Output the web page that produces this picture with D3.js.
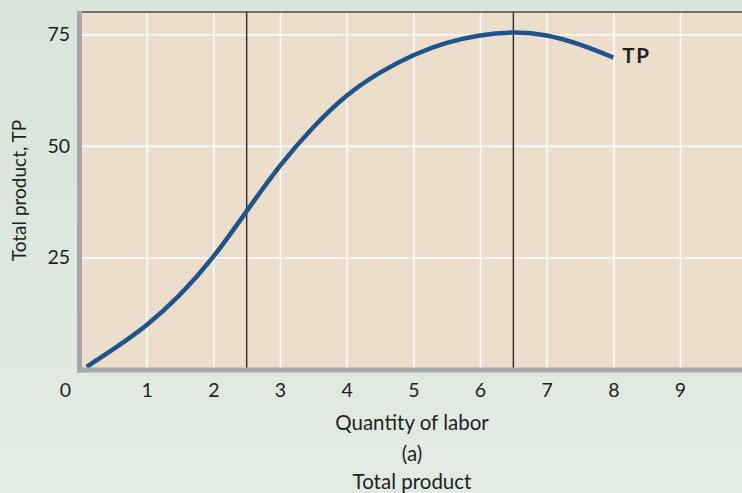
<!DOCTYPE html>
<html>
<head>
<meta charset="utf-8">
<script src="https://cdn.jsdelivr.net/npm/d3@7"></script>
<style>
  html, body { margin: 0; padding: 0; }
  body { width: 742px; height: 493px; overflow: hidden; }
  text { font-family: Lato, "Open Sans", sans-serif; fill: #231f20; }
</style>
</head>
<body>
<svg width="742" height="493"></svg>
<script>
// data
var labor = [0.1, 0.5, 1, 1.5, 2, 2.5, 3, 3.5, 4, 4.5, 5, 5.5, 6, 6.5, 7, 7.5, 8];
var totalProduct = [0.5, 4.4, 9.6, 16.4, 24.8, 35.4, 45.8, 54.4, 61.6, 66.6, 70.5, 73.3, 74.9, 75.6, 75.0, 72.8, 69.8];
var xTicks = [0, 1, 2, 3, 4, 5, 6, 7, 8, 9];
var yTicks = [25, 50, 75];
var markers = [2.5, 6.5]; // vertical reference lines

var width = 742;
var height = 493;
var margin = {
    top: 12,
    bottom: 124,
    left: 80,
    right: 0
};

var svg = d3.select('svg');

// background, a little greener at the top
var defs = svg.append('defs');
var grad = defs.append('linearGradient')
    .attr('id', 'bg')
    .attr('x1', 0).attr('y1', 0).attr('x2', 0).attr('y2', 1);
grad.append('stop').attr('offset', '0%').attr('stop-color', '#d7e5da');
grad.append('stop').attr('offset', '100%').attr('stop-color', '#e2ebe3');

svg.append('rect')
    .attr('width', width)
    .attr('height', height)
    .attr('fill', 'url(#bg)');

// scales
var xScale = d3.scaleLinear()
    .domain([0, 10])
    .range([margin.left, margin.left + 666.7]);

var yScale = d3.scaleLinear()
    .domain([0, 80])
    .range([369, margin.top]);

var plotW = width - margin.left;
var plotH = yScale(0) - yScale(80);

// plot panel
svg.append('rect')
    .attr('x', xScale(0))
    .attr('y', yScale(80))
    .attr('width', plotW)
    .attr('height', plotH)
    .attr('fill', '#ecdecb');

// grid lines
svg.append('g')
    .attr('class', 'grid')
    .attr('transform', 'translate(' + [0, yScale(0)] + ')')
    .call(d3.axisBottom(xScale).tickValues(xTicks.slice(1)).tickSize(-plotH).tickFormat(''))
    .call(g => g.select('.domain').remove())
    .call(g => g.selectAll('line').attr('stroke', '#ffffff').attr('stroke-width', 1.6));

svg.append('g')
    .attr('class', 'grid')
    .attr('transform', 'translate(' + [xScale(0), 0] + ')')
    .call(d3.axisLeft(yScale).tickValues(yTicks).tickSize(-plotW).tickFormat(''))
    .call(g => g.select('.domain').remove())
    .call(g => g.selectAll('line').attr('stroke', '#ffffff').attr('stroke-width', 1.6));

// top border
svg.append('line')
    .attr('x1', xScale(0)).attr('x2', width)
    .attr('y1', yScale(80)).attr('y2', yScale(80))
    .attr('stroke', '#4a4a4a')
    .attr('stroke-width', 1.5);

// vertical reference lines
svg.selectAll('.marker')
    .data(markers)
    .enter().append('line')
    .attr('class', 'marker')
    .attr('x1', d => xScale(d)).attr('x2', d => xScale(d))
    .attr('y1', yScale(80)).attr('y2', yScale(0))
    .attr('stroke', '#3b3232')
    .attr('stroke-width', 1.5);

// TP curve (basis spline smooths out reading noise)
var line = d3.line()
    .x((d, i) => xScale(labor[i]))
    .y(d => yScale(d))
    .curve(d3.curveBasis);

svg.append('path')
    .datum(totalProduct)
    .attr('d', line)
    .attr('fill', 'none')
    .attr('stroke', '#1d5489')
    .attr('stroke-width', 4.5)
    .attr('stroke-linecap', 'butt');

// axes (thick grey bars)
svg.append('line')
    .attr('x1', xScale(0) - 2.5).attr('x2', width)
    .attr('y1', yScale(0) + 1).attr('y2', yScale(0) + 1)
    .attr('stroke', '#a7a7aa')
    .attr('stroke-width', 5);

svg.append('line')
    .attr('x1', xScale(0) - 0.5).attr('x2', xScale(0) - 0.5)
    .attr('y1', yScale(80) - 1).attr('y2', yScale(0) + 3.5)
    .attr('stroke', '#a7a7aa')
    .attr('stroke-width', 5);

// tick labels
var xAxis = svg.append('g')
    .attr('transform', 'translate(' + [0, yScale(0)] + ')')
    .call(d3.axisBottom(xScale).tickValues(xTicks).tickSize(0).tickPadding(14))
    .call(g => g.select('.domain').remove());
xAxis.selectAll('text')
    .attr('font-size', 19.5)
    .attr('fill', '#231f20')
    .attr('font-family', 'Lato, sans-serif')
    .attr('dx', d => d === 0 ? -15 : 0);

var yAxis = svg.append('g')
    .attr('transform', 'translate(' + [xScale(0), 0] + ')')
    .call(d3.axisLeft(yScale).tickValues(yTicks).tickSize(0).tickPadding(10))
    .call(g => g.select('.domain').remove());
yAxis.selectAll('text')
    .attr('font-size', 19.5)
    .attr('fill', '#231f20')
    .attr('font-family', 'Lato, sans-serif');

// curve label
svg.append('text')
    .attr('x', xScale(8) + 9)
    .attr('y', 63)
    .attr('font-size', 20.5)
    .attr('font-weight', 'bold')
    .attr('letter-spacing', 1.5)
    .text('TP');

// axis titles
var cx = (xScale(0) + width) / 2 + 1;
svg.append('text')
    .attr('x', cx)
    .attr('y', 430)
    .attr('text-anchor', 'middle')
    .attr('font-size', 20.5)
    .text('Quantity of labor');

svg.append('text')
    .attr('x', cx)
    .attr('y', 461)
    .attr('text-anchor', 'middle')
    .attr('font-size', 20.5)
    .text('(a)');

svg.append('text')
    .attr('x', cx)
    .attr('y', 489)
    .attr('text-anchor', 'middle')
    .attr('font-size', 20.5)
    .text('Total product');

svg.append('text')
    .attr('transform', 'translate(' + [26, (yScale(0) + yScale(80)) / 2] + ') rotate(-90)')
    .attr('text-anchor', 'middle')
    .attr('font-size', 19)
    .text('Total product, TP');
</script>
</body>
</html>
